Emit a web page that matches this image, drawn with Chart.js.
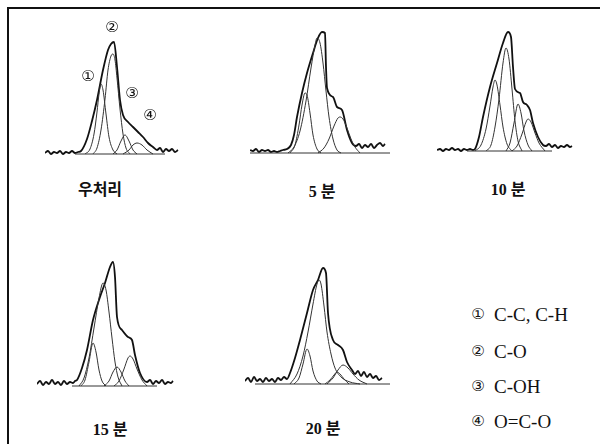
<!DOCTYPE html>
<html>
<head>
<meta charset="utf-8">
<script src="https://cdn.jsdelivr.net/npm/chart.js@4"></script>
<style>
  body { margin: 0; background: #fff; }
  #wrap { position: relative; width: 600px; height: 444px; overflow: hidden; }
  #wrap canvas { position: absolute; }
  .frame-top { position: absolute; left: 7px; top: 7px; width: 593px; height: 2px; background: #111; }
  .frame-left { position: absolute; left: 7px; top: 7px; width: 2px; height: 437px; background: #111; }
  .lbl { position: absolute; transform: translate(-50%, -50%); white-space: nowrap; color: #111;
         font-family: "Liberation Serif", "Noto Sans CJK KR", serif; font-weight: bold; font-size: 16px; }
  .num { position: absolute; transform: translate(-50%, -50%); font-family: "DejaVu Sans", sans-serif;
         font-size: 15px; color: #111; }
  .leg { position: absolute; transform: translateY(-50%); white-space: nowrap; color: #111;
         font-family: "Liberation Serif", serif; font-size: 19px; }
</style>
</head>
<body>
<div id="wrap">
  <div class="frame-top"></div>
  <div class="frame-left"></div>
</div>
<script>
// panel titles and peak names
const panelTitles = ["우처리", "5 분", "10 분", "15 분", "20 분"];
const peakMarks = ["①", "②", "③", "④"];
const peakNames = ["C-C, C-H", "C-O", "C-OH", "O=C-O"];

// measured C1s spectra (x: position, y: intensity above baseline)
const raw0 = [[0,1],[3,3],[6,0],[9,2],[12,1],[15,3],[18,0],[21,2],[24,1],[27,3],[30,1],[33,2],[36,3],[42,15],[47,33],[52,54],[58,84],[63,104],[66,110],[69,112],[72,87],[75,54],[78,39],[83,32],[88,27],[93,22],[98,17],[103,11],[108,7],[112,4],[115,6],[118,2],[121,5],[124,3],[127,5],[130,2],[133,4]];
const raw1 = [[0,3],[3,2],[6,4],[9,1],[12,3],[15,2],[18,3],[21,1],[24,2],[27,1],[30,2],[33,3],[37,4],[41,8],[44,18],[47,36],[52,60],[57,80],[63,100],[68,115],[72,121],[75,120],[76,86],[77,65],[83,56],[87,46],[92,43],[97,23],[102,10],[106,7],[109,9],[112,5],[115,8],[118,6],[121,9],[124,5],[127,8],[130,10],[133,7],[135,9]];
const raw2 = [[0,1],[3,2],[6,0],[9,2],[12,1],[15,3],[18,1],[21,2],[24,0],[27,2],[30,1],[33,2],[36,1],[38,2],[42,14],[46,34],[53,64],[60,88],[66,108],[71,119],[74,114],[76,84],[78,62],[83,58],[86,49],[90,46],[93,41],[96,28],[101,14],[106,6],[109,5],[112,7],[115,4],[118,6],[121,3],[124,5],[127,4],[130,6],[133,4],[135,5]];
const raw3 = [[0,2],[3,5],[6,1],[9,4],[12,2],[15,6],[18,2],[21,4],[24,1],[27,5],[30,2],[33,4],[36,3],[38,5],[40,6],[45,18],[50,36],[56,66],[63,89],[68,103],[73,119],[76,124],[78,109],[80,69],[85,56],[91,49],[95,46],[98,31],[103,13],[110,4],[113,6],[116,2],[119,5],[122,3],[125,6],[128,2],[131,4],[134,3],[136,5]];
const raw4 = [[0,3],[3,6],[6,2],[9,7],[12,3],[15,5],[18,2],[21,6],[24,3],[27,5],[30,2],[33,6],[36,4],[39,7],[42,5],[45,11],[50,26],[55,44],[62,71],[68,94],[73,104],[78,116],[81,111],[83,71],[88,44],[93,39],[98,34],[102,22],[107,14],[110,10],[113,13],[116,8],[119,12],[122,7],[125,10],[128,6],[131,8],[134,4],[137,6]];

// fitted component peaks, per panel: [peak1, peak2, peak3, peak4]
const fit0 = [
  [[40,0],[45,5],[49,20],[52,42],[54,60],[56,70],[58,64],[61,40],[64,17],[68,4],[72,0]],
  [[48,0],[52,6],[56,24],[60,55],[63,84],[66,98],[68,100],[70,94],[72,76],[75,45],[78,20],[81,6],[85,0]],
  [[68,0],[72,4],[76,13],[80,19],[84,13],[88,4],[92,0]],
  [[78,0],[84,4],[88,9],[92,11],[97,9],[102,4],[108,0]]
];
const fit1 = [
  [[40,0],[45,8],[49,28],[52,48],[55,60],[57,58],[60,40],[63,18],[67,4],[71,0]],
  [[38,0],[44,6],[50,22],[56,52],[61,85],[65,108],[67,115],[70,110],[73,90],[76,62],[79,36],[83,14],[87,3],[91,0]],
  [[68,0],[74,5],[79,14],[84,27],[88,35],[90,36],[93,34],[97,25],[101,14],[105,6],[110,0]],
  []
];
const fit2 = [
  [[38,0],[44,6],[49,22],[53,45],[56,64],[58,71],[60,66],[63,46],[66,24],[70,7],[75,0]],
  [[49,0],[54,6],[58,24],[62,52],[66,88],[69,103],[72,92],[75,62],[78,30],[81,10],[85,0]],
  [[69,0],[73,8],[77,28],[81,47],[84,38],[87,20],[91,6],[95,0]],
  [[75,0],[80,5],[85,17],[89,29],[91,32],[94,29],[98,18],[102,8],[108,0]]
];
const fit3 = [
  [[44,0],[48,6],[52,24],[56,43],[59,34],[62,16],[65,5],[69,0]],
  [[42,0],[47,8],[52,28],[57,58],[62,88],[66,103],[69,96],[72,74],[75,48],[78,24],[81,9],[85,0]],
  [[67,0],[72,5],[76,14],[80,19],[84,14],[88,5],[92,0]],
  [[77,0],[82,5],[87,17],[91,28],[93,30],[96,27],[100,17],[105,6],[110,0]]
];
const fit4 = [
  [[49,0],[54,6],[58,20],[62,35],[65,28],[68,13],[72,3],[76,0]],
  [[45,0],[52,10],[58,28],[63,52],[68,80],[72,100],[74,104],[76,100],[79,78],[82,52],[86,30],[90,16],[96,7],[105,2],[115,0]],
  [[80,0],[85,4],[89,9],[92,12],[95,10],[99,5],[104,0]],
  [[82,0],[88,6],[93,14],[98,19],[103,16],[108,10],[114,4],[122,0]]
];

// baseline segment drawn under the fit
const base0 = [30, 120];
const base1 = [0, 140];
const base2 = [30, 115];
const base3 = [35, 120];
const base4 = [10, 145];

const raws = [raw0, raw1, raw2, raw3, raw4];
const fits = [fit0, fit1, fit2, fit3, fit4];
const bases = [base0, base1, base2, base3, base4];

// where each small plot sits on the page
const boxes = [
  { left: 45, top: 25 },
  { left: 250, top: 24 },
  { left: 437, top: 22 },
  { left: 37, top: 257 },
  { left: 245, top: 255 }
];
const titlePos = [[100, 188], [322, 190], [508, 188], [110, 428], [323, 427]];

const wrap = document.getElementById("wrap");
const toPts = (arr) => arr.map((p) => ({ x: p[0], y: p[1] }));

boxes.forEach((b, i) => {
  const cv = document.createElement("canvas");
  cv.width = 150;
  cv.height = 135;
  cv.style.left = b.left + "px";
  cv.style.top = b.top + "px";
  wrap.appendChild(cv);

  const datasets = [];
  datasets.push({
    data: toPts([[bases[i][0], 0], [bases[i][1], 0]]),
    borderColor: "#333", borderWidth: 1, pointRadius: 0, tension: 0
  });
  fits[i].forEach((f) => {
    if (!f.length) return;
    datasets.push({
      data: toPts(f),
      borderColor: "#333", borderWidth: 1, pointRadius: 0,
      cubicInterpolationMode: "monotone"
    });
  });
  datasets.push({
    data: toPts(raws[i]),
    borderColor: "#111", borderWidth: 1.8, pointRadius: 0,
    cubicInterpolationMode: "monotone"
  });

  new Chart(cv, {
    type: "line",
    data: { datasets: datasets },
    options: {
      responsive: false,
      animation: false,
      clip: false,
      layout: { padding: 0 },
      plugins: { legend: { display: false }, tooltip: { enabled: false } },
      scales: {
        x: { type: "linear", min: 0, max: 150, display: false },
        y: { min: -6, max: 129, display: false }
      }
    }
  });

  const t = document.createElement("div");
  t.className = "lbl";
  t.textContent = panelTitles[i];
  t.style.left = titlePos[i][0] + "px";
  t.style.top = titlePos[i][1] + "px";
  wrap.appendChild(t);
});

// peak markers on the untreated spectrum
const markPos = [[88, 76], [112, 27], [132, 93], [150, 115]];
peakMarks.forEach((m, i) => {
  const d = document.createElement("div");
  d.className = "num";
  d.textContent = m;
  d.style.left = markPos[i][0] + "px";
  d.style.top = markPos[i][1] + "px";
  wrap.appendChild(d);
});

// legend of peak assignments
const legY = [314, 351, 386, 421];
peakNames.forEach((n, i) => {
  const m = document.createElement("div");
  m.className = "num";
  m.textContent = peakMarks[i];
  m.style.left = "478px";
  m.style.top = legY[i] + "px";
  wrap.appendChild(m);
  const d = document.createElement("div");
  d.className = "leg";
  d.textContent = n;
  d.style.left = "494px";
  d.style.top = (legY[i] + 1) + "px";
  wrap.appendChild(d);
});
</script>
</body>
</html>
